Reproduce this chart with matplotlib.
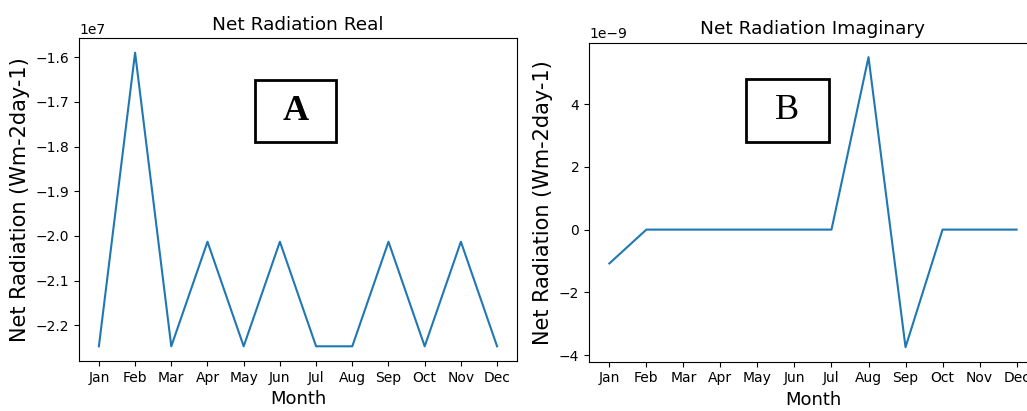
import matplotlib
matplotlib.use("Agg")
import matplotlib.pyplot as plt
from matplotlib.patches import Rectangle

# donnees
mois = ["Jan", "Feb", "Mar", "Apr", "May", "Jun", "Jul", "Aug", "Sep", "Oct", "Nov", "Dec"]
reel = [-2.247e7, -1.590e7, -2.247e7, -2.013e7, -2.247e7, -2.013e7,
        -2.247e7, -2.247e7, -2.013e7, -2.247e7, -2.013e7, -2.247e7]
imaginaire = [-1.08e-9, 0.0, 0.0, 0.0, 0.0, 0.0, 0.0, 5.5e-9, -3.75e-9, 0.0, 0.0, 0.0]

fig = plt.figure(figsize=(10.27, 4.11), dpi=100)
ax1 = fig.add_axes([0.0769, 0.1217, 0.4265, 0.7858])
ax2 = fig.add_axes([0.5735, 0.1200, 0.4362, 0.7762])


def panneau(ax, valeurs, titre, lettre, boite, gras):
    ax.plot(mois, valeurs)
    ax.set_title(titre, fontsize=13.3)
    ax.set_xlabel("Month", fontsize=13)
    ax.set_ylabel("Net Radiation (Wm-2day-1)", fontsize=15)
    ax.tick_params(labelsize=10)
    x0, x1, y0, y1 = boite
    ax.add_patch(Rectangle((x0, y0), x1 - x0, y1 - y0, transform=ax.transAxes,
                           fill=False, edgecolor="black", linewidth=2, zorder=5))
    ax.text((x0 + x1) / 2, (y0 + y1) / 2, lettre, transform=ax.transAxes,
            ha="center", va="center", fontsize=26, family="Liberation Serif",
            fontweight="bold" if gras else "normal")


panneau(ax1, reel, "Net Radiation Real", "A", (0.402, 0.586, 0.678, 0.870), True)
panneau(ax2, imaginaire, "Net Radiation Imaginary", "B", (0.350, 0.536, 0.690, 0.887), False)

fig.savefig("out.png", dpi=100)
